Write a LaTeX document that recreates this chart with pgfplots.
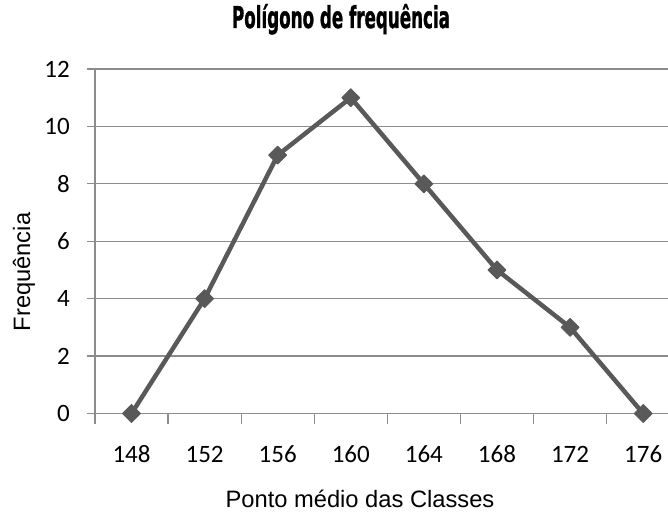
\documentclass[border=0pt]{standalone}
\usepackage{pgfplots}
\pgfplotsset{compat=1.18}
\usepackage{graphicx}
\usepackage{fontspec}
\setmainfont{Liberation Sans}
\newfontfamily\tickfont{Carlito}
\newfontfamily\titlefont{DejaVu Sans}[BoldFeatures={FakeBold=1.5}]
\definecolor{serie}{HTML}{595959}
\definecolor{eixo}{HTML}{8C8C8C}

\begin{document}
\begin{tikzpicture}
\useasboundingbox (-95pt,-98.5pt) rectangle (573pt,413.5pt);
\begin{axis}[
  at={(0pt,0pt)}, anchor=south west,
  scale only axis, width=573pt, height=344.5pt,
  xmin=-0.5, xmax=7.34, ymin=0, ymax=12,
  ytick={0,2,...,12},
  xtick={0,...,7},
  xticklabels={148,152,156,160,164,168,172,176},
  minor xtick={-0.5,0.5,...,6.5},
  axis x line*=bottom, axis y line*=left,
  axis line style={draw=eixo, line width=1.3pt, -},
  ymajorgrids, grid style={draw=eixo, line width=1.3pt},
  tick align=outside,
  major tick length=8pt, minor tick length=10pt,
  tick style={draw=eixo, line width=1.3pt},
  major x tick style={draw=none},
  /pgf/number format/assume math mode=true,
  xticklabel style={font=\tickfont\fontsize{25}{30}\selectfont, anchor=base, inner sep=0pt, yshift=-40.5pt},
  yticklabel style={font=\tickfont\fontsize{25}{30}\selectfont, anchor=east, inner sep=0pt, xshift=-17pt},
  clip=false,
]
\addplot[serie, line width=4.5pt, line join=round,
  mark=square*, mark size=6.3pt,
  mark options={rotate=45, solid, fill=serie, line width=1pt}]
  coordinates {(0,0) (1,4) (2,9) (3,11) (4,8) (5,5) (6,3) (7,0)};
\end{axis}
\node[anchor=base] at (246pt,385.5pt)
  {\resizebox{218pt}{\height}{\titlefont\bfseries\fontsize{30}{34}\selectfont Polígono de frequência}};
\node[anchor=base, font=\fontsize{23.7}{28}\selectfont] at (265pt,-93.5pt) {Ponto médio das Classes};
\node[rotate=90, font=\fontsize{23.7}{28}\selectfont] at (-71pt,141.5pt) {Frequência};
\end{tikzpicture}
\end{document}
